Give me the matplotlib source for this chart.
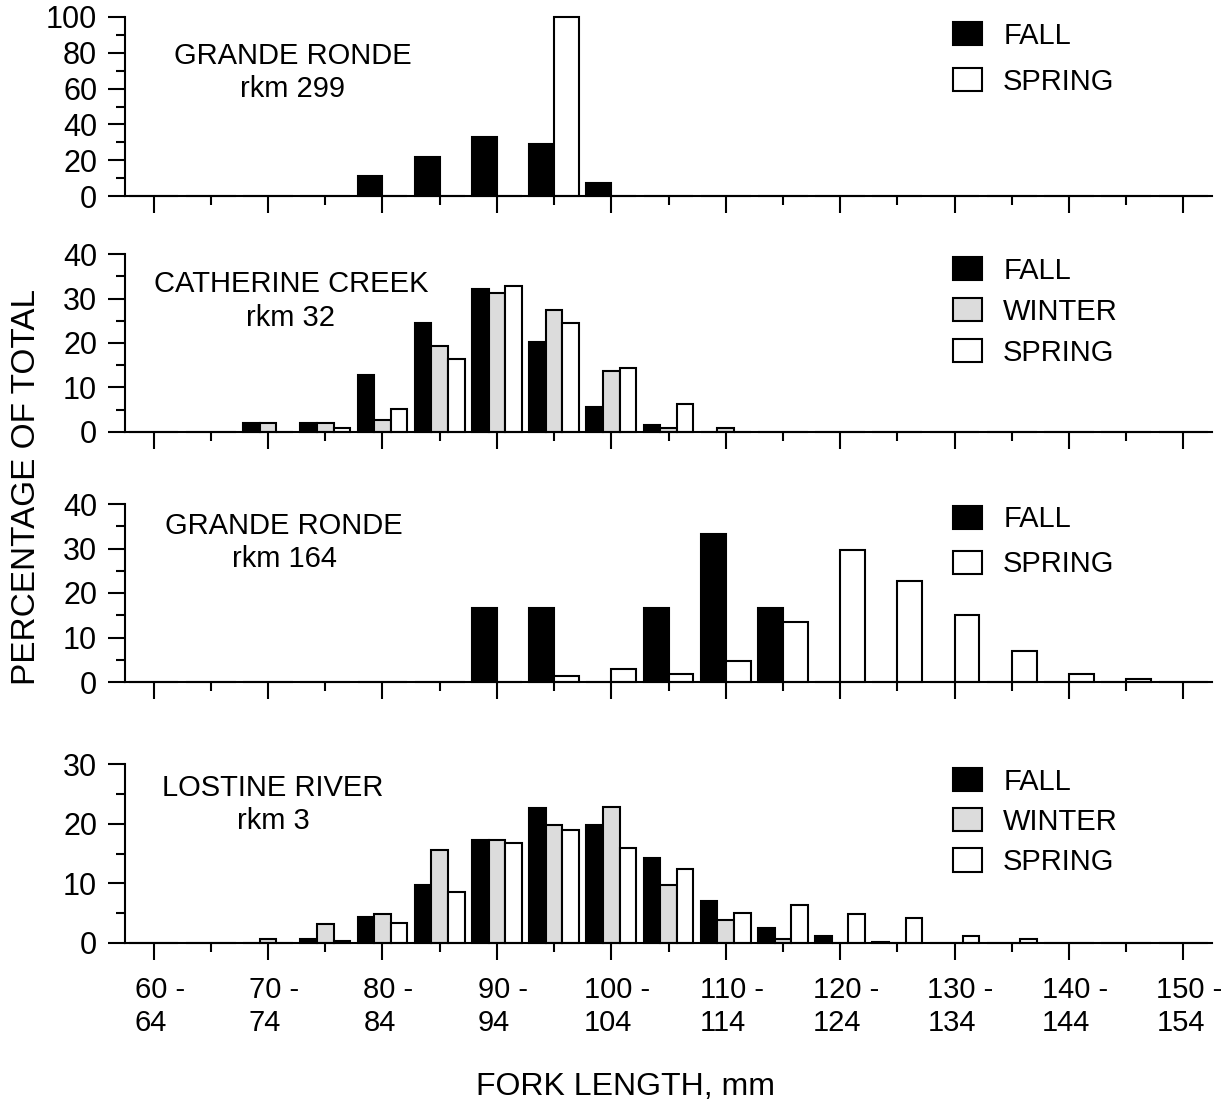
import numpy as np
import matplotlib
matplotlib.use("Agg")
import matplotlib.pyplot as plt
import matplotlib.transforms as mtransforms
from matplotlib.ticker import MultipleLocator

plt.rcParams['font.family'] = ['Liberation Sans', 'DejaVu Sans']

# ---- data ----
bins = ["60-64", "65-69", "70-74", "75-79", "80-84", "85-89", "90-94", "95-99",
        "100-104", "105-109", "110-114", "115-119", "120-124", "125-129",
        "130-134", "135-139", "140-144", "145-149", "150-154"]
tick_labels = ["60 -\n64", "70 -\n74", "80 -\n84", "90 -\n94", "100 -\n104",
               "110 -\n114", "120 -\n124", "130 -\n134", "140 -\n144", "150 -\n154"]

gr299_fall   = [0, 0, 0, 0, 11.2, 22.0, 32.8, 29.0, 7.4, 0, 0, 0, 0, 0, 0, 0, 0, 0, 0]
gr299_spring = [0, 0, 0, 0, 0, 0, 0, 100.0, 0, 0, 0, 0, 0, 0, 0, 0, 0, 0, 0]

cc32_fall   = [0, 0, 2.0, 2.0, 12.9, 24.6, 32.2, 20.2, 5.7, 1.6, 0, 0, 0, 0, 0, 0, 0, 0, 0]
cc32_winter = [0, 0, 2.0, 2.0, 2.7, 19.4, 31.3, 27.5, 13.8, 0.8, 0.8, 0, 0, 0, 0, 0, 0, 0, 0]
cc32_spring = [0, 0, 0, 1.0, 5.2, 16.4, 32.7, 24.5, 14.4, 6.3, 0, 0, 0, 0, 0, 0, 0, 0, 0]

gr164_fall   = [0, 0, 0, 0, 0, 0, 16.7, 16.7, 0, 16.7, 33.3, 16.7, 0, 0, 0, 0, 0, 0, 0]
gr164_spring = [0, 0, 0, 0, 0, 0, 0, 1.3, 3.0, 1.9, 4.7, 13.5, 29.7, 22.7, 15.1, 7.0, 1.9, 0.75, 0]

lr3_fall   = [0, 0, 0, 0.7, 4.4, 9.7, 17.3, 22.7, 19.7, 14.2, 7.1, 2.5, 1.1, 0.2, 0, 0, 0, 0, 0]
lr3_winter = [0, 0, 0.7, 3.2, 4.9, 15.6, 17.3, 19.7, 22.85, 9.7, 3.9, 0.6, 0, 0, 0, 0, 0, 0, 0]
lr3_spring = [0, 0, 0, 0.35, 3.35, 8.5, 16.8, 19.0, 16.0, 12.35, 5.0, 6.3, 4.9, 4.2, 1.2, 0.6, 0, 0, 0]

panels = [
    dict(title="GRANDE RONDE\nrkm 299", ymax=100, major=20, minor=10,
         series=[("FALL", gr299_fall), ("SPRING", gr299_spring)]),
    dict(title="CATHERINE CREEK\nrkm 32", ymax=40, major=10, minor=5,
         series=[("FALL", cc32_fall), ("WINTER", cc32_winter), ("SPRING", cc32_spring)]),
    dict(title="GRANDE RONDE\nrkm 164", ymax=40, major=10, minor=5,
         series=[("FALL", gr164_fall), ("SPRING", gr164_spring)]),
    dict(title="LOSTINE RIVER\nrkm 3", ymax=30, major=10, minor=5,
         series=[("FALL", lr3_fall), ("WINTER", lr3_winter), ("SPRING", lr3_spring)]),
]

colors = {"FALL": "#000000", "WINTER": "#dcdcdc", "SPRING": "#ffffff"}

# ---- layout (pixels) ----
W, H = 1228, 1105
fig = plt.figure(figsize=(W / 100, H / 100), dpi=100)
left_px, right_px = 125, 1212
ax_px = [(17, 196), (254, 432), (504, 682), (764, 943)]
title_px = [(293, 72.5), (291, 301), (284, 542.5), (273, 804.5)]
leg_top_px = [21.5, 256.5, 505.5, 767.5]
leg_spacing = [0.62, 0.45, 0.58, 0.42]

x = np.arange(len(bins))
bottom_ax = None
for i, p in enumerate(panels):
    top, bot = ax_px[i]
    ax = fig.add_axes([left_px / W, 1 - bot / H, (right_px - left_px) / W, (bot - top) / H])
    n = len(p["series"])
    w = 0.29 if n == 3 else 0.435
    handles = []
    for j, (name, vals) in enumerate(p["series"]):
        off = (j - (n - 1) / 2) * w
        bc = ax.bar(x + off, vals, width=w, color=colors[name], edgecolor="black",
                    linewidth=1.5, label=name, clip_on=False, zorder=2)
        handles.append(bc)
    ax.set_xlim(-0.5, len(bins) - 0.5)
    ax.set_ylim(0, p["ymax"])
    ax.yaxis.set_major_locator(MultipleLocator(p["major"]))
    ax.yaxis.set_minor_locator(MultipleLocator(p["minor"]))
    ax.set_xticks(x[::2])
    ax.set_xticks(x[1::2], minor=True)
    if i == len(panels) - 1:
        ax.set_xticklabels(tick_labels)
        bottom_ax = ax
    else:
        ax.set_xticklabels([])
    for s in ["top", "right"]:
        ax.spines[s].set_visible(False)
    for s in ["left", "bottom"]:
        ax.spines[s].set_linewidth(1.5)
        ax.spines[s].set_zorder(3)
    ax.tick_params(axis="both", which="major", length=12, width=1.5, direction="out")
    ax.tick_params(axis="both", which="minor", length=6.5, width=1.5, direction="out")
    ax.tick_params(axis="y", which="major", labelsize=22, pad=8)
    ax.tick_params(axis="x", which="major", labelsize=21, pad=12)
    ax.patch.set_visible(False)

    tx, ty = title_px[i]
    fig.text(tx / W, 1 - ty / H, p["title"], ha="center", va="center",
             multialignment="center", fontsize=21, linespacing=1.25)

    ax.legend(handles=handles, loc="upper left",
              bbox_to_anchor=(953 / W, 1 - leg_top_px[i] / H), bbox_transform=fig.transFigure,
              frameon=False, borderpad=0, borderaxespad=0, fontsize=21,
              handlelength=1.0, handleheight=0.86, handletextpad=0.72,
              labelspacing=leg_spacing[i])

fig.text(27 / W, 1 - 487 / H, "PERCENTAGE OF TOTAL", rotation=90,
         ha="center", va="center", fontsize=24)
fig.text(625 / W, 1 - 1087 / H, "FORK LENGTH, mm", ha="center", va="center", fontsize=23)

# nudge bottom tick labels slightly right, left-aligned lines as in the reference
fig.canvas.draw()
shift = mtransforms.ScaledTranslation(6 / 100, 0, fig.dpi_scale_trans)
for t in bottom_ax.xaxis.get_major_ticks():
    t.label1.set_multialignment("left")
    t.label1.set_transform(t.label1.get_transform() + shift)

fig.savefig("out.png", dpi=100)
